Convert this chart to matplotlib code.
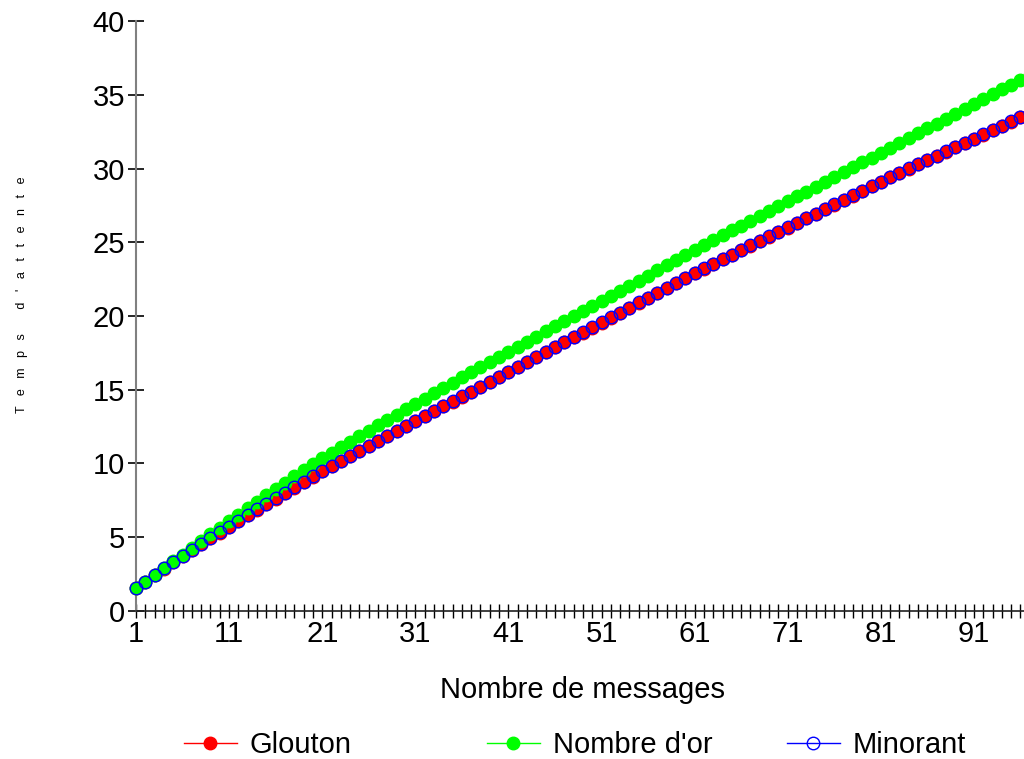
import matplotlib
matplotlib.use("Agg")
import matplotlib.pyplot as plt
from matplotlib.lines import Line2D

plt.rcParams['font.family'] = ['Liberation Sans', 'DejaVu Sans']

messages = list(range(1, 101))

glouton = [1.50, 1.96, 2.41, 2.85, 3.27, 3.70, 4.10, 4.51, 4.90, 5.29,
           5.68, 6.07, 6.46, 6.84, 7.22, 7.60, 7.98, 8.35, 8.72, 9.09,
           9.44, 9.79, 10.14, 10.49, 10.83, 11.17, 11.51, 11.85, 12.19, 12.53,
           12.86, 13.19, 13.52, 13.85, 14.18, 14.51, 14.84, 15.17, 15.50, 15.83,
           16.17, 16.51, 16.85, 17.19, 17.53, 17.86, 18.20, 18.54, 18.87, 19.21,
           19.55, 19.88, 20.22, 20.56, 20.89, 21.23, 21.56, 21.90, 22.23, 22.57,
           22.90, 23.21, 23.52, 23.83, 24.14, 24.45, 24.76, 25.07, 25.38, 25.69,
           26.00, 26.31, 26.62, 26.93, 27.24, 27.55, 27.86, 28.17, 28.48, 28.79,
           29.10, 29.41, 29.70, 29.99, 30.28, 30.57, 30.86, 31.15, 31.44, 31.73,
           32.02, 32.31, 32.60, 32.89, 33.18, 33.47, 33.76, 34.05, 34.34, 34.63]

nombre_or = [1.50, 1.96, 2.42, 2.88, 3.34, 3.80, 4.26, 4.72, 5.17, 5.62,
             6.07, 6.51, 6.95, 7.39, 7.82, 8.25, 8.68, 9.10, 9.52, 9.94,
             10.32, 10.70, 11.08, 11.45, 11.82, 12.19, 12.56, 12.93, 13.30, 13.66,
             14.02, 14.38, 14.74, 15.10, 15.46, 15.82, 16.17, 16.52, 16.87, 17.22,
             17.57, 17.91, 18.26, 18.60, 18.95, 19.29, 19.64, 19.98, 20.33, 20.67,
             21.02, 21.36, 21.71, 22.05, 22.40, 22.74, 23.09, 23.43, 23.78, 24.12,
             24.47, 24.81, 25.14, 25.47, 25.80, 26.13, 26.46, 26.79, 27.12, 27.45,
             27.78, 28.11, 28.44, 28.77, 29.10, 29.43, 29.76, 30.09, 30.42, 30.75,
             31.08, 31.41, 31.74, 32.07, 32.40, 32.73, 33.06, 33.39, 33.72, 34.05,
             34.38, 34.71, 35.04, 35.37, 35.70, 36.03, 36.36, 36.69, 37.02, 37.35]

minorant = [1.50, 1.96, 2.42, 2.86, 3.28, 3.71, 4.12, 4.52, 4.92, 5.31,
            5.70, 6.09, 6.47, 6.86, 7.24, 7.62, 7.99, 8.37, 8.74, 9.10,
            9.46, 9.81, 10.16, 10.50, 10.85, 11.19, 11.53, 11.87, 12.21, 12.55,
            12.88, 13.21, 13.54, 13.87, 14.20, 14.53, 14.86, 15.19, 15.52, 15.85,
            16.18, 16.52, 16.86, 17.20, 17.54, 17.88, 18.21, 18.55, 18.89, 19.22,
            19.56, 19.90, 20.23, 20.57, 20.91, 21.24, 21.58, 21.91, 22.25, 22.58,
            22.92, 23.23, 23.54, 23.85, 24.16, 24.47, 24.78, 25.09, 25.40, 25.71,
            26.02, 26.33, 26.64, 26.95, 27.26, 27.57, 27.88, 28.19, 28.50, 28.81,
            29.12, 29.43, 29.72, 30.01, 30.30, 30.59, 30.88, 31.17, 31.46, 31.75,
            32.04, 32.33, 32.62, 32.91, 33.20, 33.49, 33.78, 34.07, 34.36, 34.65]

x_tick_labels = [1, 11, 21, 31, 41, 51, 61, 71, 81, 91]
y_ticks = [0, 5, 10, 15, 20, 25, 30, 35, 40]

fig = plt.figure(figsize=(10.24, 7.59), dpi=100)
ax = fig.add_axes([136/1024, 1 - 610.5/759, 1 - 136/1024, (610.5 - 21.3)/759])

ms = 9.0
ax.plot(messages, glouton, color='#FF0000', ls='none', marker='o', ms=ms,
        mfc='#FF0000', mec='#FF0000', clip_on=False, zorder=3)
ax.plot(messages, nombre_or, color='#00FF00', ls='none', marker='o', ms=ms,
        mfc='#00FF00', mec='#00FF00', clip_on=False, zorder=4)
ax.plot(messages, minorant, color='#0000FF', ls='none', marker='o', ms=ms,
        mfc='none', mec='#0000FF', mew=1.0, clip_on=False, zorder=5)

for s in ['top', 'right']:
    ax.spines[s].set_visible(False)
ax.spines['left'].set_color('#808080')
ax.spines['left'].set_linewidth(1.5)
ax.spines['bottom'].set_color('#202020')
ax.spines['bottom'].set_linewidth(1.2)

ax.set_yticks(y_ticks)
ax.set_yticklabels([str(v) for v in y_ticks], fontsize=21)
ax.set_xticks(x_tick_labels)
ax.set_xticklabels([str(v) for v in x_tick_labels], fontsize=21)
ax.set_xticks(messages, minor=True)
ax.tick_params(axis='y', direction='inout', length=12, width=1.2, color='black', pad=2)
ax.tick_params(axis='x', which='both', direction='inout', length=10, width=1.0, color='black', pad=2)

ax.set_xlim(1, 96.38)
ax.set_ylim(0, 40)

fig.text(583/1024, 1 - 690/759, 'Nombre de messages', fontsize=21, ha='center', va='center')
fig.text(22/1024, 1 - 295/759, "T   e   m   p   s       d   '   a   t   t   e   n   t   e",
         fontsize=9, rotation=90, ha='center', va='center')

entries = [("Glouton", '#FF0000', '#FF0000', 184),
           ("Nombre d'or", '#00FF00', '#00FF00', 487),
           ("Minorant", '#0000FF', 'none', 787)]
for label, col, fc, xpx in entries:
    h = Line2D([], [], color=col, lw=1, marker='o', ms=9, mfc=fc, mec=col)
    leg = fig.legend([h], [label], loc='center left',
                     bbox_to_anchor=(xpx/1024, 1 - 745/759),
                     frameon=False, fontsize=21, handlelength=1.8,
                     handletextpad=0.45, borderpad=0, borderaxespad=0)

fig.savefig('out.png', dpi=100)
